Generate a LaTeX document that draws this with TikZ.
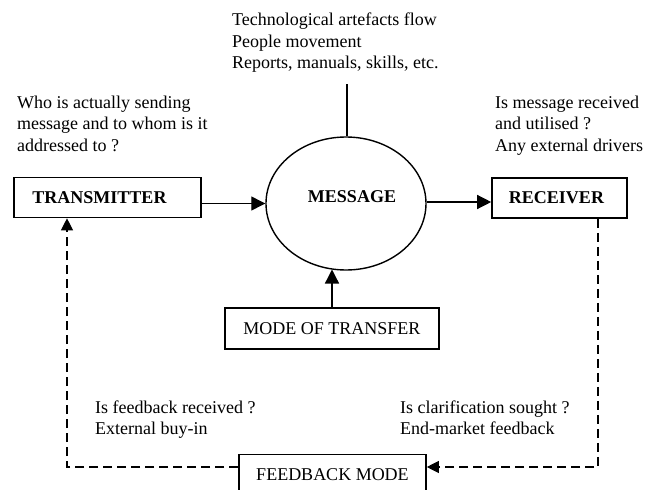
\documentclass[tikz,border=0pt]{standalone}
\usepackage{fontspec}
\setmainfont{Liberation Serif}
\usetikzlibrary{arrows.meta,shapes.geometric}
\begin{document}
\begin{tikzpicture}[x=1pt,y=-1pt,
  txt/.style={font=\fontsize{18}{21.5}\selectfont, align=left, anchor=north west, inner sep=0pt},
  boxn/.style={draw, line width=1.6pt, font=\fontsize{18}{21.5}\selectfont, inner sep=0pt},
  lbl/.style={font=\fontsize{18}{21.5}\selectfont\bfseries, inner sep=0pt},
  solidarrow/.style={line width=1.3pt, -{Triangle[length=14pt,width=14pt]}},
  fbline/.style={line width=1.1pt, dash pattern=on 9pt off 5pt},
  fbarrow/.style={fbline, -{Triangle[length=12pt,width=12pt]}}]
\useasboundingbox (0,0) rectangle (657,490);
% nodes
\node[boxn, minimum width=187pt, minimum height=40pt] (trans) at (107.5,197.5) {};
\node[lbl] (transtxt) at (99.5,197.5) {TRANSMITTER};
\node[boxn, minimum width=135pt, minimum height=40pt] (recv) at (559.5,198) {};
\node[lbl] (recvtxt) at (556.5,198) {RECEIVER};
\node[draw, ellipse, line width=1.4pt, minimum width=160pt, minimum height=133pt, inner sep=0pt] (msg) at (346,203.5) {};
\node[lbl] (msgtxt) at (352,197) {MESSAGE};
\node[boxn, minimum width=214pt, minimum height=41pt] (mode) at (332,328.5) {MODE OF TRANSFER};
\node[boxn, minimum width=187pt, minimum height=40pt] (fb) at (332.5,474.5) {FEEDBACK MODE};
% texts
\node[txt] (tleft) at (17,95.6) {Who is actually sending\\message and to whom is it\\addressed to ?};
\node[txt] (tright) at (495,95.4) {Is message received\\and utilised ?\\Any external drivers};
\node[txt] (ttop) at (232,12.7) {Technological artefacts flow\\People movement\\Reports, manuals, skills, etc.};
\node[txt] (tbl) at (95,400.3) {Is feedback received ?\\External buy-in};
\node[txt] (tbr) at (400,400.3) {Is clarification sought ?\\End-market feedback};
% connectors
\coordinate (topend) at (347,84);
\draw[line width=1.4pt] (topend) -- (topend |- msg.north);
\draw[solidarrow] (trans.east |- msg.west) -- (msg.west);
\draw[solidarrow] (msg.east |- 0,202) -- (recv.west |- 0,202);
\draw[solidarrow] (mode.north) -- (mode.north |- 0,269.5);
\coordinate (rc) at (598,467);
\coordinate (lc) at (67,467);
\draw[fbarrow] (rc |- recv.south) -- (rc) -- (rc -| fb.east);
\draw[fbarrow] (lc -| fb.west) -- (lc) -- (lc |- trans.south);
\end{tikzpicture}
\end{document}
